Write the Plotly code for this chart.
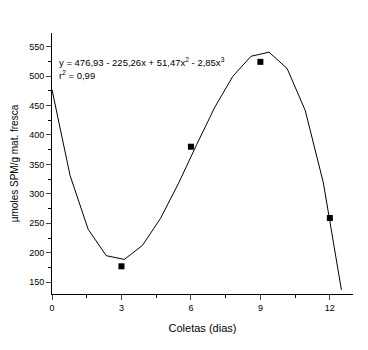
import plotly.graph_objects as go

# observed points
days = [3, 6, 9, 12]
spm = [177, 380, 524, 259]

# fitted curve, as drawn (piecewise segments)
fit_x = [0, 0.78125, 1.5625, 2.34375, 3.125, 3.90625, 4.6875, 5.46875, 6.25,
         7.03125, 7.8125, 8.59375, 9.375, 10.15625, 10.9375, 11.71875, 12.5]
fit_y = [476.9, 331.0, 239.8, 195.0, 188.7, 212.5, 258.4, 318.2, 383.8,
         447.0, 499.6, 533.5, 540.5, 512.6, 441.4, 318.9, 137.0]

x_ticks = [0, 3, 6, 9, 12]
y_ticks = [150, 200, 250, 300, 350, 400, 450, 500, 550]

fig = go.Figure()
fig.add_trace(go.Scatter(x=fit_x, y=fit_y, mode="lines",
                         line=dict(color="black", width=1), showlegend=False))
fig.add_trace(go.Scatter(x=days, y=spm, mode="markers",
                         marker=dict(symbol="square", color="black", size=6),
                         showlegend=False))

font = "Liberation Sans, Arial, sans-serif"
fig.update_layout(
    width=360, height=342,
    margin=dict(l=44, r=15, t=25, b=56, autoexpand=False),
    paper_bgcolor="white", plot_bgcolor="white",
    font=dict(family=font, color="black", size=9),
    xaxis=dict(range=[0, 13], tickvals=x_ticks, ticks="outside", ticklen=5,
               showline=True, linecolor="black", linewidth=1, showgrid=False,
               zeroline=False, tickfont=dict(size=9), automargin=False,
               minor=dict(ticks="outside", dtick=1.5, tick0=0, ticklen=3, tickcolor="black"),
               title=dict(text="Coletas (dias)", font=dict(size=11), standoff=12)),
    yaxis=dict(range=[130, 573], tickvals=y_ticks, ticks="outside", ticklen=5,
               showline=True, linecolor="black", linewidth=1, showgrid=False,
               zeroline=False, tickfont=dict(size=9), automargin=False,
               minor=dict(ticks="outside", dtick=25, tick0=0, ticklen=3, tickcolor="black"),
               title=dict(text="µmoles SPM/g mat. fresca", font=dict(size=10), standoff=8)),
    annotations=[
        dict(x=0.2, y=523, xref="x", yref="y", xanchor="left", yanchor="middle",
             showarrow=False, font=dict(size=9.5),
             text="y = 476,93 - 225,26x + 51,47x<sup>2</sup> - 2,85x<sup>3</sup>"),
        dict(x=0.2, y=501, xref="x", yref="y", xanchor="left", yanchor="middle",
             showarrow=False, font=dict(size=9.5),
             text="r<sup>2</sup> = 0,99"),
    ],
)
fig.write_html("out.html")
